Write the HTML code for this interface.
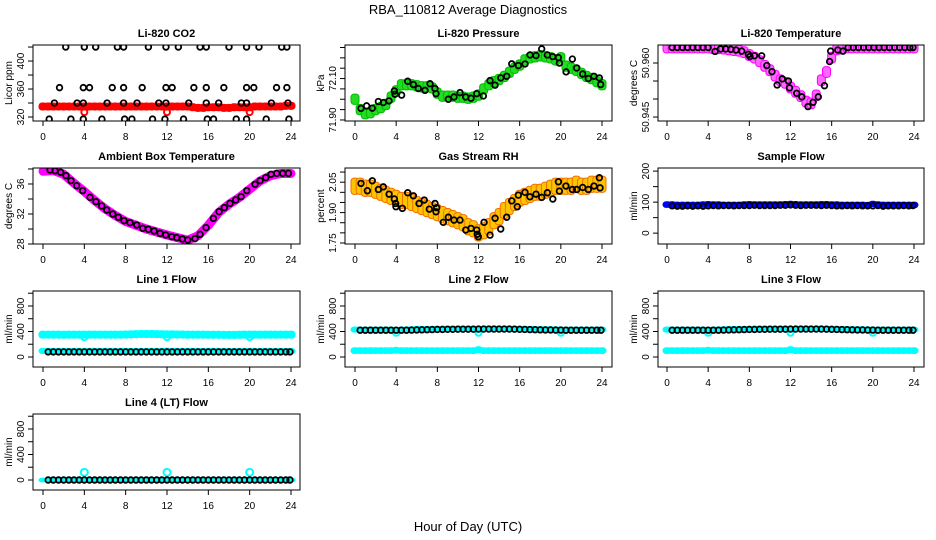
<!DOCTYPE html>
<html><head><meta charset="utf-8">
<style>
html,body{margin:0;padding:0;background:#fff;}
svg{display:block;font-family:"Liberation Sans",Arial,sans-serif;}
</style></head>
<body>
<svg id="fig" width="936" height="540" viewBox="0 0 936 540" xmlns="http://www.w3.org/2000/svg">
<text x="468" y="14" text-anchor="middle" font-size="13">RBA_110812  Average Diagnostics</text>
<text x="468" y="531" text-anchor="middle" font-size="13">Hour of Day (UTC)</text>
</svg>
<script>
// ---------- data ----------
const xTicks = [0,4,8,12,16,20,24];
const bandH = [0,0.5,1,1.5,2,2.5,3,3.5,4,4.5,5,5.5,6,6.5,7,7.5,8,8.5,9,9.5,10,10.5,11,11.5,12,12.5,13,13.5,14,14.5,15,15.5,16,16.5,17,17.5,18,18.5,19,19.5,20,20.5,21,21.5,22,22.5,23,23.5,24];
const avgH = [0.5,1,1.5,2,2.5,3,3.5,4,4.5,5,5.5,6,6.5,7,7.5,8,8.5,9,9.5,10,10.5,11,11.5,12,12.5,13,13.5,14,14.5,15,15.5,16,16.5,17,17.5,18,18.5,19,19.5,20,20.5,21,21.5,22,22.5,23,23.5,23.9];

// CO2
const co2Band = [335,335,335,335,335,335,335,335,335,335,335,335,335,335,335,335,335,335,335,335,335,335,335,335,335,335,335,335,335,334,333,333,334,334,334,333,333,334,334,334,334,335,335,335,335,335,335,336,336];
const co2OutH = [4,12,20];
const co2OutV = [327,327,327];
const co2H = [2.2,4.0,5.1,7.2,7.8,10.2,11.9,13.1,15.2,15.8,18.0,19.7,20.9,23.1,23.6,
 1.6,3.9,4.5,6.7,7.8,9.6,11.9,12.5,14.6,15.8,17.5,19.7,20.4,22.6,23.6,
 1.1,3.3,3.9,6.2,7.8,9.1,11.2,11.9,14.1,15.8,17.0,19.2,19.7,22.1,23.7,
 0.6,2.7,3.9,5.7,7.9,8.6,10.6,11.8,13.6,15.9,16.5,18.7,19.7,21.6,23.8];
const co2V = [420,420,420,420,420,420,420,420,420,420,420,420,420,420,420,
 362,362,362,362,362,362,362,362,362,362,362,362,362,362,362,
 340,340,340,340,340,340,340,340,340,340,340,340,340,340,340,
 317,317,317,317,317,317,317,317,317,317,317,317,317,317,317];

// Pressure
const presBand = [72.00,71.95,71.93,71.935,71.95,71.96,71.975,72.01,72.04,72.07,72.07,72.07,72.065,72.06,72.06,72.055,72.03,72.015,72.015,72.015,72.01,72.01,72.005,72.01,72.02,72.05,72.07,72.085,72.095,72.11,72.13,72.15,72.165,72.19,72.20,72.205,72.21,72.205,72.20,72.19,72.20,72.16,72.15,72.14,72.125,72.11,72.10,72.085,72.07];
const presH = [0.58,1.13,1.68,2.27,2.75,3.30,3.82,3.89,4.53,5.12,5.67,6.15,6.80,7.29,7.77,7.87,9.07,9.62,10.20,10.75,11.27,11.82,12.47,13.12,13.61,14.16,14.74,15.23,15.88,16.52,17.01,17.59,18.14,18.69,19.21,19.76,19.86,20.51,21.12,21.54,22.12,22.67,23.22,23.74,23.87];
const presV = [71.956,71.968,71.957,71.989,71.984,71.992,72.040,72.024,72.020,72.087,72.071,72.052,72.043,72.075,72.052,72.027,72.000,72.011,72.032,72.011,72.005,72.027,72.016,72.090,72.068,72.103,72.111,72.171,72.163,72.170,72.214,72.211,72.243,72.214,72.206,72.201,72.175,72.132,72.194,72.151,72.122,72.100,72.111,72.103,72.071];

// Li-820 temperature
const tempBand = [50.9643,50.9643,50.9643,50.9643,50.9643,50.9643,50.9643,50.9643,50.9643,50.9641,50.9641,50.964,50.9638,50.9636,50.9634,50.963,50.9622,50.9615,50.9605,50.9592,50.958,50.9565,50.9552,50.9545,50.9532,50.952,50.9508,50.9493,50.9488,50.951,50.9552,50.9575,50.9615,50.9638,50.964,50.9643,50.9643,50.9643,50.9643,50.9643,50.9643,50.9643,50.9643,50.9643,50.9643,50.9643,50.9643,50.9643,50.9643];
const tempH = [0.5,1,1.5,2,2.5,3,3.5,4,4.67,5.2,5.7,6.2,6.7,7.26,7.91,8.06,8.5,9.2,9.7,10.2,10.7,11.2,11.8,11.9,12.6,13.1,13.7,14.2,14.7,15.3,15.8,15.9,16.6,17.1,17.6,18.1,18.6,19.1,19.6,20.1,20.6,21.1,21.6,22.1,22.6,23.1,23.6,23.9];
const tempV = [50.9643,50.9643,50.9643,50.9643,50.9643,50.9643,50.9643,50.9643,50.9632,50.9639,50.9639,50.9638,50.9636,50.9633,50.9624,50.9618,50.9620,50.9620,50.9593,50.9576,50.9539,50.9556,50.9550,50.9531,50.9516,50.9506,50.9479,50.9491,50.9506,50.9537,50.9604,50.9633,50.9636,50.9633,50.9643,50.9643,50.9643,50.9643,50.9643,50.9643,50.9643,50.9643,50.9643,50.9643,50.9643,50.9643,50.9643,50.9643];

// Ambient box temperature
const ambBandH = [0,1,2,3,4,5,6,7,8,9,10,11,12,13,14,15,16,17,18,19,20,21,22,23,24];
const ambBandV = [37.7,37.8,37.3,36.1,35.0,33.8,32.7,31.8,31.0,30.5,30.0,29.6,29.2,28.85,28.5,29.1,30.5,32.2,33.3,34.2,35.3,36.4,37.1,37.4,37.4];
const ambH = [0.68,1.16,1.71,2.23,2.71,3.26,3.84,4.55,5.13,5.68,6.17,6.75,7.29,7.84,8.42,9.07,9.65,10.19,10.75,11.33,11.88,12.46,12.94,13.49,14.01,14.71,15.20,15.78,16.49,17.04,17.55,18.10,18.65,19.17,19.72,20.52,21.01,21.56,22.07,22.62,23.2,23.75];
const ambV = [37.87,37.77,37.56,37.11,36.44,35.77,35.11,34.22,33.64,33.07,32.53,32.00,31.56,31.11,30.84,30.53,30.09,29.96,29.73,29.42,29.2,28.98,28.84,28.67,28.53,28.71,29.29,30.18,31.42,32.31,32.84,33.42,33.87,34.31,35.11,35.96,36.44,36.84,37.29,37.42,37.42,37.42];

// Gas stream RH
const rhBand = [2.03,2.03,2.02,2.02,2.01,2.0,1.99,1.98,1.97,1.96,1.96,1.95,1.94,1.93,1.92,1.91,1.90,1.89,1.88,1.87,1.86,1.85,1.83,1.82,1.80,1.81,1.83,1.86,1.88,1.91,1.93,1.95,1.97,1.98,1.99,2.0,2.0,2.01,2.02,2.03,2.03,2.03,2.03,2.04,2.03,2.03,2.04,2.04,2.04];
const rhH = [0.58,1.2,1.68,2.27,2.75,3.31,3.82,3.95,3.98,4.6,5.12,5.67,6.22,6.73,7.22,7.77,7.87,7.94,8.58,9.07,9.62,10.2,10.76,11.27,11.83,11.88,11.98,12.54,13.12,13.61,14.16,14.74,15.23,15.77,15.87,16.52,17.0,17.59,18.14,18.69,19.22,19.76,19.86,20.5,21.12,21.54,22.12,22.67,23.22,23.74,23.81];
const rhV = [2.044,2.008,2.057,2.014,2.027,1.991,1.967,1.945,1.929,1.921,1.998,1.983,1.945,1.962,1.917,1.945,1.904,1.924,1.852,1.877,1.863,1.863,1.814,1.822,1.814,1.793,1.781,1.852,1.789,1.872,1.819,1.877,1.958,1.929,1.986,2.0,1.978,1.991,1.975,1.998,1.967,2.052,2.006,2.031,2.014,2.014,2.024,2.014,2.031,2.072,2.022];

// Sample flow
const sfBand = [92,92,91,91,91,91,91,92,93,92,92,91,91,91,91,92,93,92,92,92,92,92,92,93,94,93,92,92,92,92,93,93,92,92,91,91,91,91,91,90,94,92,91,91,91,91,91,91,91];
const sfV = [88,87,87,88,87,88,87,88,89,88,89,89,88,89,89,89,90,89,89,89,89,90,90,91,90,89,90,90,90,89,90,89,88,88,89,88,89,88,88,88,89,87,88,88,88,89,88,89];

// Line flows
const l1Upper = [350,350,350,350,348,350,350,350,350,350,350,350,350,350,350,350,352,355,358,360,360,360,358,356,355,355,352,352,350,350,350,350,348,348,348,346,346,346,348,350,350,350,350,350,350,350,350,350,350];
const l1Lower = [95,95,95,95,95,95,95,95,95,95,95,95,95,95,95,95,95,95,95,95,95,95,95,95,100,95,95,95,95,95,95,95,95,95,95,95,95,95,95,95,95,95,95,95,95,95,95,95,95];
const l1Black = [80,80,80,80,80,80,80,80,80,80,80,80,80,80,80,80,80,80,80,80,80,80,80,80,80,80,80,80,80,80,80,80,80,80,80,80,80,80,80,80,80,80,80,80,80,80,80,80];
const l1DipH = [4,12,20];
const l1DipV = [310,310,310];
const l2Upper = [430,430,430,430,430,430,430,430,425,430,432,435,440,440,440,440,442,445,445,445,445,445,445,445,440,445,445,445,445,445,445,445,440,440,438,438,436,436,435,435,430,430,430,430,430,430,430,430,430];
const l2Lower = [100,100,100,100,100,100,100,100,105,100,100,100,100,100,100,100,100,100,100,100,100,100,100,100,115,100,100,100,100,100,100,100,100,100,100,100,100,100,100,100,100,100,100,100,100,100,100,100,100];
const l2Black = [420,420,420,420,420,420,420,420,420,420,422,424,426,428,430,432,432,434,434,436,436,436,436,438,438,438,438,438,438,438,436,434,432,430,428,426,424,424,422,422,420,420,420,420,420,420,420,420];
const l2DipH = [4,12,20];
const l2DipV = [380,380,380];
const l3Upper = [430,430,430,430,430,430,430,430,425,430,432,435,440,440,440,440,442,445,445,445,445,445,445,445,440,445,445,445,445,445,445,445,440,440,438,438,436,436,435,435,430,430,430,430,430,430,430,430,430];
const l3Lower = [100,100,100,100,100,100,100,100,105,100,100,100,100,100,100,100,100,100,100,100,100,100,100,100,115,100,100,100,100,100,100,100,100,100,100,100,100,100,100,100,100,100,100,100,100,100,100,100,100];
const l3Black = [420,420,420,420,420,420,420,420,420,420,422,424,426,428,430,432,432,434,434,436,436,436,436,438,438,438,438,438,438,438,436,434,432,430,428,426,424,424,422,422,420,420,420,420,420,420,420,420];
const l3DipH = [4,12,20];
const l3DipV = [380,380,380];
const l4Cyan = [0,0,0,0,0,0,0,0,0,0,0,0,0,0,0,0,0,0,0,0,0,0,0,0,0,0,0,0,0,0,0,0,0,0,0,0,0,0,0,0,0,0,0,0,0,0,0,0,0];
const l4Black = [0,0,0,0,0,0,0,0,0,0,0,0,0,0,0,0,0,0,0,0,0,0,0,0,0,0,0,0,0,0,0,0,0,0,0,0,0,0,0,0,0,0,0,0,0,0,0,0];
const l4SpikeH = [4,12,20];
const l4SpikeV = [120,120,120];

const flowTicks = [0,200,400,600,800,1000];
const flowLabels = [0,400,800];

// ---------- drawing ----------
const NS = 'http://www.w3.org/2000/svg';
const svg = document.getElementById('fig');
const colBox = [[33,300,43,291],[345,612,355,602],[658,924,667,914]];
const rowTop = [45,168,291,414];
const BH = 76;

function el(tag, attrs, parent, name, inter) {
  const e = document.createElementNS(NS, tag);
  for (const k in attrs) e.setAttribute(k, attrs[k]);
  
  
  (parent || svg).appendChild(e);
  return e;
}

function panel(opt) {
  const [bl, br, x0, x1] = colBox[opt.col];
  const top = rowTop[opt.row], bot = top + BH;
  const g = el('g', {}, svg, opt.name, false);
  const xs = h => x0 + (h / 24) * (x1 - x0);
  const ys = v => bot - (v - opt.ymin) / (opt.ymax - opt.ymin) * BH;
  const t = el('text', {x: (bl + br) / 2, y: top - 8, 'text-anchor': 'middle', 'font-size': 11, 'font-weight': 'bold'}, g, 'panel-title', false);
  t.textContent = opt.title;
  const xa = el('g', {}, g, 'x-axis', false);
  el('line', {x1: xs(0), x2: xs(24), y1: bot, y2: bot, stroke: '#000'}, xa, 'x-axis-line', false);
  xTicks.forEach(v => {
    el('line', {x1: xs(v), x2: xs(v), y1: bot, y2: bot + 5, stroke: '#000'}, xa, 'x-tick', false);
    const tl = el('text', {x: xs(v), y: bot + 19, 'text-anchor': 'middle', 'font-size': 10}, xa, 'x-tick-label', false);
    tl.textContent = v;
  });
  const ya = el('g', {}, g, 'y-axis', false);
  opt.yticks.forEach(v => {
    el('line', {x1: bl - 5, x2: bl, y1: ys(v), y2: ys(v), stroke: '#000'}, ya, 'y-tick', false);
  });
  opt.ylabels.forEach((lab, i) => {
    const v = opt.ylabelVals[i];
    const yl = el('text', {x: bl - 9, y: ys(v), 'text-anchor': 'middle', 'font-size': 10, transform: `rotate(-90 ${bl - 9} ${ys(v)})`}, ya, 'y-tick-label', false);
    yl.textContent = lab;
  });
  const yt = el('text', {x: bl - 21, y: (top + bot) / 2, 'text-anchor': 'middle', 'font-size': 10, transform: `rotate(-90 ${bl - 21} ${(top + bot) / 2})`}, g, 'y-axis-title', false);
  yt.textContent = opt.ylab;
  const cid = 'c' + opt.col + opt.row;
  const cp = el('clipPath', {id: cid}, g, 'plot-clip', false);
  el('rect', {x: bl, y: top, width: br - bl, height: BH}, cp, 'clip-rect', false);
  const dg = el('g', {'clip-path': `url(#${cid})`}, g, 'plot-area', false);
  opt.draw(dg, xs, ys);
  el('rect', {x: bl, y: top, width: br - bl, height: BH, fill: 'none', stroke: '#000'}, g, 'plot-box', false);
}

function band(g, xs, ys, H, V, half, fill, stroke, name) {
  H.forEach((h, i) => {
    const yT = ys(V[i] + half), yB = ys(V[i] - half);
    el('rect', {x: xs(h) - 4, y: yT, width: 8, height: Math.max(yB - yT, 1), rx: 3, fill: fill, stroke: stroke, 'stroke-width': 1}, g, name, false);
  });
}
function dots(g, xs, ys, H, V, color, r, sw, name, fill) {
  H.forEach((h, i) => {
    el('circle', {cx: xs(h), cy: ys(V[i]), r: r, fill: fill || 'none', stroke: color, 'stroke-width': sw}, g, name, false);
  });
}

panel({name:'co2-panel', col:0,row:0,title:'Li-820 CO2',ylab:'Licor ppm',ymin:314.3,ymax:422.9,
  yticks:[320,340,360,380,400,420], ylabels:['320','360','400'], ylabelVals:[320,360,400],
  draw:(g,xs,ys)=>{ band(g,xs,ys,bandH,co2Band,5,'#ff0000','#ff0000','co2-band');
    dots(g,xs,ys,co2OutH,co2OutV,'#ff0000',3,2,'co2-outlier');
    dots(g,xs,ys,co2H,co2V,'#000',2.8,1.8,'co2-average-point'); }});

panel({name:'pressure-panel', col:1,row:0,title:'Li-820 Pressure',ylab:'kPa',ymin:71.895,ymax:72.262,
  yticks:[71.90,71.95,72.00,72.05,72.10,72.15,72.20,72.25], ylabels:['71.90','72.10'], ylabelVals:[71.90,72.10],
  draw:(g,xs,ys)=>{ band(g,xs,ys,bandH,presBand,0.025,'#22dd22','#00bb00','pressure-band');
    dots(g,xs,ys,presH,presV,'#000',2.8,1.8,'pressure-average-point'); }});

panel({name:'li820-temperature-panel', col:2,row:0,title:'Li-820 Temperature',ylab:'degrees C',ymin:50.9439,ymax:50.9650,
  yticks:[50.945,50.950,50.955,50.960], ylabels:['50.945','50.960'], ylabelVals:[50.945,50.960],
  draw:(g,xs,ys)=>{ band(g,xs,ys,bandH,tempBand,0.0015,'#ff66ff','#ff00ff','temperature-band');
    dots(g,xs,ys,tempH,tempV,'#000',2.8,1.8,'temperature-average-point'); }});

panel({name:'ambient-temperature-panel', col:0,row:1,title:'Ambient Box Temperature',ylab:'degrees C',ymin:28,ymax:38.13,
  yticks:[28,30,32,34,36,38], ylabels:['28','32','36'], ylabelVals:[28,32,36],
  draw:(g,xs,ys)=>{ const pts = ambBandH.map((h,i)=>xs(h)+','+ys(ambBandV[i])).join(' ');
    el('polyline',{points:pts,fill:'none',stroke:'#ff00ff','stroke-width':9,'stroke-linejoin':'round','stroke-linecap':'round'},g,'ambient-band',false);
    dots(g,xs,ys,ambH,ambV,'#000',2.8,1.8,'ambient-average-point'); }});

panel({name:'gas-rh-panel', col:1,row:1,title:'Gas Stream RH',ylab:'percent',ymin:1.745,ymax:2.12,
  yticks:[1.75,1.80,1.85,1.90,1.95,2.00,2.05,2.10], ylabels:['1.75','1.90','2.05'], ylabelVals:[1.75,1.90,2.05],
  draw:(g,xs,ys)=>{ band(g,xs,ys,bandH,rhBand,0.04,'#ffc400','#f07000','rh-band');
    dots(g,xs,ys,rhH,rhV,'#000',2.8,1.8,'rh-average-point'); }});

panel({name:'sample-flow-panel', col:2,row:1,title:'Sample Flow',ylab:'ml/min',ymin:-35,ymax:210,
  yticks:[0,50,100,150,200], ylabels:['0','100','200'], ylabelVals:[0,100,200],
  draw:(g,xs,ys)=>{ band(g,xs,ys,bandH,sfBand,9,'#0000ff','#0000ff','sample-flow-band');
    dots(g,xs,ys,avgH,sfV,'#000',2.8,1.8,'sample-flow-average-point'); }});

const flowOpt = {ymin:-157,ymax:1035,yticks:flowTicks,ylabels:['0','400','800'],ylabelVals:flowLabels,ylab:'ml/min'};

panel(Object.assign({name:'line1-flow-panel',col:0,row:2,title:'Line 1 Flow',
  draw:(g,xs,ys)=>{ band(g,xs,ys,bandH,l1Upper,55,'#00ffff','#00ffff','line1-upper-band');
    band(g,xs,ys,bandH,l1Lower,40,'#00ffff','#00ffff','line1-lower-band');
    dots(g,xs,ys,l1DipH,l1DipV,'#00ffff',3,2,'line1-dip');
    dots(g,xs,ys,avgH,l1Black,'#000',2.8,1.8,'line1-average-point'); }},flowOpt));

panel(Object.assign({name:'line2-flow-panel',col:1,row:2,title:'Line 2 Flow',
  draw:(g,xs,ys)=>{ band(g,xs,ys,bandH,l2Upper,40,'#00ffff','#00ffff','line2-upper-band');
    band(g,xs,ys,bandH,l2Lower,45,'#00ffff','#00ffff','line2-lower-band');
    dots(g,xs,ys,l2DipH,l2DipV,'#00ffff',3,2,'line2-dip');
    dots(g,xs,ys,avgH,l2Black,'#000',2.8,1.8,'line2-average-point'); }},flowOpt));

panel(Object.assign({name:'line3-flow-panel',col:2,row:2,title:'Line 3 Flow',
  draw:(g,xs,ys)=>{ band(g,xs,ys,bandH,l3Upper,40,'#00ffff','#00ffff','line3-upper-band');
    band(g,xs,ys,bandH,l3Lower,45,'#00ffff','#00ffff','line3-lower-band');
    dots(g,xs,ys,l3DipH,l3DipV,'#00ffff',3,2,'line3-dip');
    dots(g,xs,ys,avgH,l3Black,'#000',2.8,1.8,'line3-average-point'); }},flowOpt));

panel(Object.assign({name:'line4-flow-panel',col:0,row:3,title:'Line 4 (LT) Flow',
  draw:(g,xs,ys)=>{ band(g,xs,ys,bandH,l4Cyan,30,'#00ffff','#00ffff','line4-band');
    dots(g,xs,ys,l4SpikeH,l4SpikeV,'#00ffff',3.5,2,'line4-spike');
    dots(g,xs,ys,avgH,l4Black,'#000',2.8,1.8,'line4-average-point'); }},flowOpt));
</script>
</body></html>
